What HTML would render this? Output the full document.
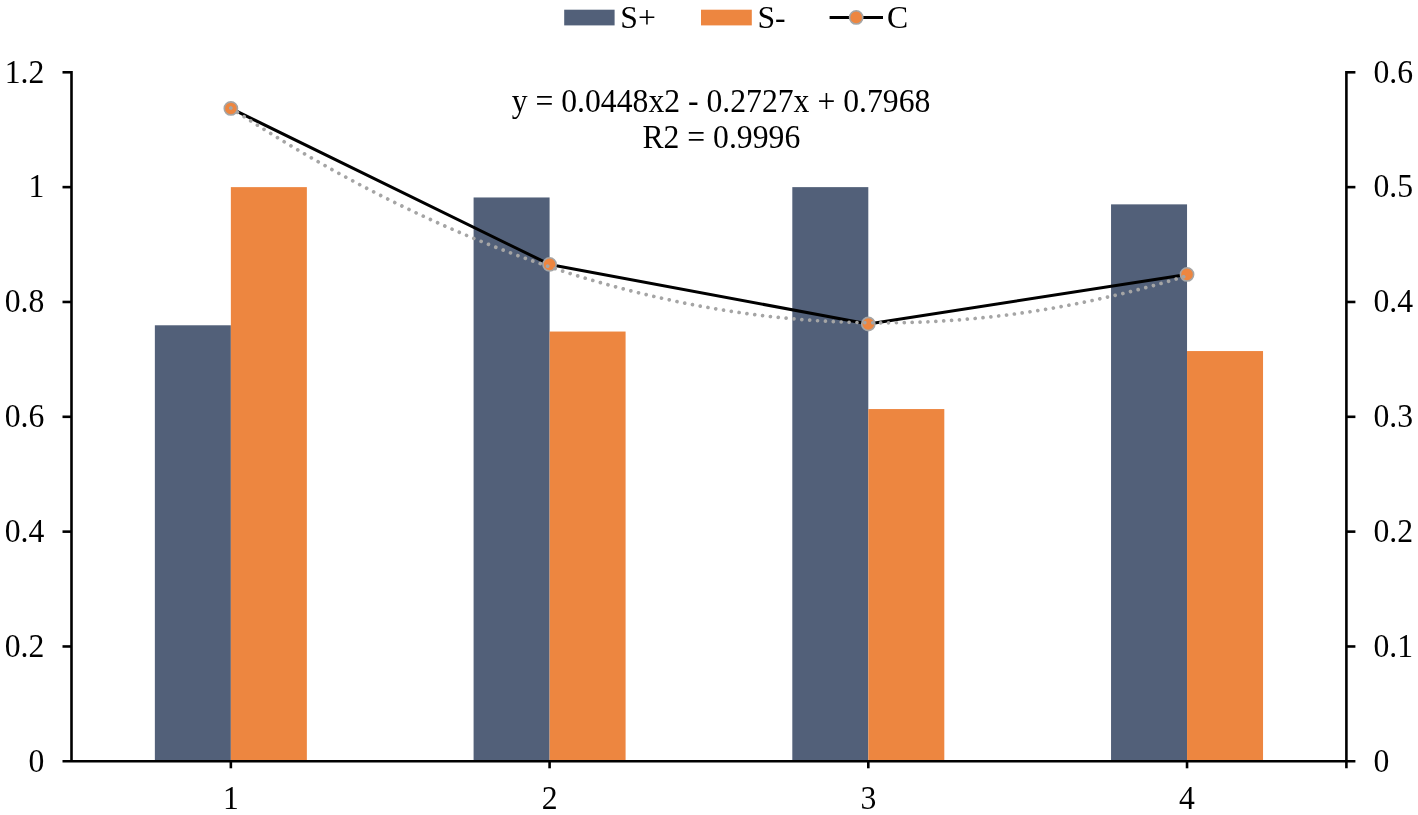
<!DOCTYPE html>
<html lang="en"><head><meta charset="utf-8"><title>Chart</title>
<style>html,body{margin:0;padding:0;background:#fff}body{width:1418px;height:815px;overflow:hidden}svg{display:block}</style>
</head><body>
<svg width="1418" height="815" viewBox="0 0 1418 815">
<rect width="1418" height="815" fill="#fff"/>
<rect x="154.86" y="325.28" width="76.00" height="436.02" fill="#526079"/>
<rect x="230.86" y="187.13" width="76.00" height="574.17" fill="#ED8640"/>
<rect x="473.59" y="197.47" width="76.00" height="563.83" fill="#526079"/>
<rect x="549.59" y="331.54" width="76.00" height="429.76" fill="#ED8640"/>
<rect x="792.31" y="187.13" width="76.00" height="574.17" fill="#526079"/>
<rect x="868.31" y="409.05" width="76.00" height="352.25" fill="#ED8640"/>
<rect x="1111.04" y="204.36" width="76.00" height="556.94" fill="#526079"/>
<rect x="1187.04" y="351.06" width="76.00" height="410.24" fill="#ED8640"/>
<g stroke="#000" stroke-width="2.6" fill="none">
<line x1="71.5" y1="70.89999999999999" x2="71.5" y2="761.3"/>
<line x1="1346.4" y1="70.89999999999999" x2="1346.4" y2="768.3"/>
<line x1="62.5" y1="761.3" x2="1355.4" y2="761.3"/>
<line x1="62.5" y1="646.47" x2="71.5" y2="646.47"/>
<line x1="1346.4" y1="646.47" x2="1355.4" y2="646.47"/>
<line x1="62.5" y1="531.63" x2="71.5" y2="531.63"/>
<line x1="1346.4" y1="531.63" x2="1355.4" y2="531.63"/>
<line x1="62.5" y1="416.80" x2="71.5" y2="416.80"/>
<line x1="1346.4" y1="416.80" x2="1355.4" y2="416.80"/>
<line x1="62.5" y1="301.97" x2="71.5" y2="301.97"/>
<line x1="1346.4" y1="301.97" x2="1355.4" y2="301.97"/>
<line x1="62.5" y1="187.13" x2="71.5" y2="187.13"/>
<line x1="1346.4" y1="187.13" x2="1355.4" y2="187.13"/>
<line x1="62.5" y1="72.30" x2="71.5" y2="72.30"/>
<line x1="1346.4" y1="72.30" x2="1355.4" y2="72.30"/>
<line x1="230.86" y1="761.3" x2="230.86" y2="768.3"/>
<line x1="549.59" y1="761.3" x2="549.59" y2="768.3"/>
<line x1="868.31" y1="761.3" x2="868.31" y2="768.3"/>
<line x1="1187.04" y1="761.3" x2="1187.04" y2="768.3"/>
</g>
<polyline points="230.86,108.47 549.59,264.42 868.31,324.01 1187.04,274.41" fill="none" stroke="#000" stroke-width="3" stroke-linejoin="round"/>
<circle cx="230.86" cy="108.47" r="6.6" fill="#ED8640" stroke="#A5A5A5" stroke-width="1.6"/>
<circle cx="549.59" cy="264.42" r="6.6" fill="#ED8640" stroke="#A5A5A5" stroke-width="1.6"/>
<circle cx="868.31" cy="324.01" r="6.6" fill="#ED8640" stroke="#A5A5A5" stroke-width="1.6"/>
<circle cx="1187.04" cy="274.41" r="6.6" fill="#ED8640" stroke="#A5A5A5" stroke-width="1.6"/>
<polyline points="230.86,108.01 235.64,111.16 240.42,114.27 245.21,117.37 249.99,120.44 254.77,123.49 259.55,126.52 264.33,129.52 269.11,132.50 273.89,135.46 278.67,138.39 283.45,141.31 288.23,144.19 293.01,147.06 297.79,149.90 302.58,152.72 307.36,155.51 312.14,158.28 316.92,161.03 321.70,163.76 326.48,166.46 331.26,169.14 336.04,171.80 340.82,174.43 345.60,177.04 350.38,179.63 355.17,182.19 359.95,184.73 364.73,187.25 369.51,189.74 374.29,192.21 379.07,194.66 383.85,197.08 388.63,199.49 393.41,201.86 398.19,204.22 402.97,206.55 407.75,208.86 412.54,211.15 417.32,213.41 422.10,215.65 426.88,217.87 431.66,220.06 436.44,222.23 441.22,224.38 446.00,226.50 450.78,228.60 455.56,230.68 460.34,232.73 465.13,234.76 469.91,236.77 474.69,238.75 479.47,240.72 484.25,242.65 489.03,244.57 493.81,246.46 498.59,248.33 503.37,250.18 508.15,252.00 512.93,253.80 517.72,255.58 522.50,257.33 527.28,259.06 532.06,260.77 536.84,262.45 541.62,264.11 546.40,265.75 551.18,267.36 555.96,268.95 560.74,270.52 565.52,272.07 570.30,273.59 575.09,275.09 579.87,276.56 584.65,278.02 589.43,279.44 594.21,280.85 598.99,282.23 603.77,283.59 608.55,284.93 613.33,286.24 618.11,287.53 622.89,288.80 627.68,290.05 632.46,291.27 637.24,292.46 642.02,293.64 646.80,294.79 651.58,295.92 656.36,297.02 661.14,298.10 665.92,299.16 670.70,300.20 675.48,301.21 680.26,302.20 685.05,303.17 689.83,304.11 694.61,305.03 699.39,305.93 704.17,306.80 708.95,307.65 713.73,308.48 718.51,309.28 723.29,310.06 728.07,310.82 732.85,311.56 737.64,312.27 742.42,312.96 747.20,313.62 751.98,314.26 756.76,314.88 761.54,315.48 766.32,316.05 771.10,316.60 775.88,317.13 780.66,317.63 785.44,318.11 790.22,318.57 795.01,319.00 799.79,319.41 804.57,319.80 809.35,320.16 814.13,320.50 818.91,320.82 823.69,321.12 828.47,321.39 833.25,321.64 838.03,321.86 842.81,322.06 847.60,322.24 852.38,322.40 857.16,322.53 861.94,322.64 866.72,322.73 871.50,322.79 876.28,322.83 881.06,322.85 885.84,322.84 890.62,322.81 895.40,322.76 900.19,322.68 904.97,322.59 909.75,322.46 914.53,322.32 919.31,322.15 924.09,321.96 928.87,321.75 933.65,321.51 938.43,321.25 943.21,320.96 947.99,320.66 952.77,320.33 957.56,319.97 962.34,319.60 967.12,319.20 971.90,318.77 976.68,318.33 981.46,317.86 986.24,317.37 991.02,316.85 995.80,316.31 1000.58,315.75 1005.36,315.17 1010.15,314.56 1014.93,313.93 1019.71,313.27 1024.49,312.59 1029.27,311.89 1034.05,311.17 1038.83,310.42 1043.61,309.65 1048.39,308.86 1053.17,308.04 1057.95,307.20 1062.73,306.34 1067.52,305.45 1072.30,304.55 1077.08,303.61 1081.86,302.66 1086.64,301.68 1091.42,300.68 1096.20,299.65 1100.98,298.61 1105.76,297.53 1110.54,296.44 1115.32,295.32 1120.11,294.18 1124.89,293.02 1129.67,291.83 1134.45,290.62 1139.23,289.39 1144.01,288.13 1148.79,286.85 1153.57,285.55 1158.35,284.23 1163.13,282.88 1167.91,281.50 1172.69,280.11 1177.48,278.69 1182.26,277.25 1187.04,275.78" fill="none" stroke="#A5A5A5" stroke-width="3.7" stroke-linecap="round" stroke-dasharray="0.01 7.88"/>
<g font-family="'Liberation Serif', 'Times New Roman', serif" font-size="31.7" fill="#000">
<text transform="translate(44.30,771.50) scale(1,1.035)" text-anchor="end">0</text>
<text transform="translate(44.30,656.67) scale(1,1.035)" text-anchor="end">0.2</text>
<text transform="translate(44.30,541.83) scale(1,1.035)" text-anchor="end">0.4</text>
<text transform="translate(44.30,427.00) scale(1,1.035)" text-anchor="end">0.6</text>
<text transform="translate(44.30,312.17) scale(1,1.035)" text-anchor="end">0.8</text>
<text transform="translate(44.30,197.33) scale(1,1.035)" text-anchor="end">1</text>
<text transform="translate(44.30,82.50) scale(1,1.035)" text-anchor="end">1.2</text>
<text transform="translate(1373.50,771.50) scale(1,1.035)">0</text>
<text transform="translate(1373.50,656.67) scale(1,1.035)">0.1</text>
<text transform="translate(1373.50,541.83) scale(1,1.035)">0.2</text>
<text transform="translate(1373.50,427.00) scale(1,1.035)">0.3</text>
<text transform="translate(1373.50,312.17) scale(1,1.035)">0.4</text>
<text transform="translate(1373.50,197.33) scale(1,1.035)">0.5</text>
<text transform="translate(1373.50,82.50) scale(1,1.035)">0.6</text>
<text transform="translate(230.86,808.80) scale(1,1.035)" text-anchor="middle">1</text>
<text transform="translate(549.59,808.80) scale(1,1.035)" text-anchor="middle">2</text>
<text transform="translate(868.31,808.80) scale(1,1.035)" text-anchor="middle">3</text>
<text transform="translate(1187.04,808.80) scale(1,1.035)" text-anchor="middle">4</text>
<text transform="translate(721.00,111.50) scale(1,1.035)" text-anchor="middle">y = 0.0448x2 - 0.2727x + 0.7968</text>
<text transform="translate(721.30,147.80) scale(1,1.035)" text-anchor="middle">R2 = 0.9996</text>
<text transform="translate(620.30,28.00) scale(1,1)">S+</text>
<text transform="translate(757.50,28.00) scale(1,1)">S-</text>
<text transform="translate(887.00,28.00) scale(1,1)">C</text>
</g>
<rect x="564.2" y="9.7" width="50.4" height="15.7" fill="#526079"/>
<rect x="701" y="9.7" width="50.8" height="15.7" fill="#ED8640"/>
<line x1="829.6" y1="17.4" x2="883" y2="17.4" stroke="#000" stroke-width="3"/>
<circle cx="856.2" cy="17.4" r="6.6" fill="#ED8640" stroke="#A5A5A5" stroke-width="1.6"/>
</svg>
</body></html>
